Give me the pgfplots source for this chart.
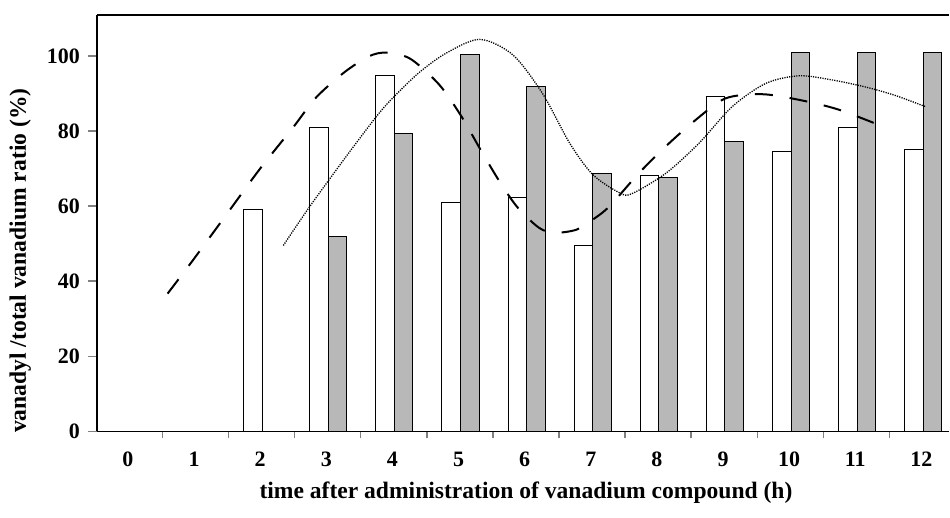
\documentclass[border=0pt]{standalone}
\usepackage{fontspec}
\setmainfont{Liberation Serif}
\usepackage{pgfplots}
\pgfplotsset{compat=1.18}
\begin{document}
\begin{tikzpicture}
\begin{axis}[
  scale only axis, width=426.7pt, height=208.5pt,
  xmin=-0.47, xmax=12.42, ymin=0, ymax=110.9,
  axis x line=box, axis y line=left,
  axis line style={-, line width=0.9pt},
  xtick={0,...,12}, xtick pos=bottom,
  major x tick style={draw=none},
  minor xtick={0.52,1.52,...,11.52},
  minor x tick style={line width=0.8pt},
  minor tick length=3.5pt,
  ytick={0,20,...,100},
  major y tick style={line width=0.8pt},
  major tick length=4.5pt,
  tick align=outside,
  /pgf/number format/assume math mode=true,
  ticklabel style={font=\fontsize{11}{13}\selectfont\bfseries},
  xticklabel style={anchor=base, yshift=-13pt},
  yticklabel style={xshift=-0.5pt},
  label style={font=\fontsize{11.8}{13}\selectfont\bfseries},
  xlabel={time after administration of vanadium compound (h)},
  xlabel style={at={(axis description cs:0.5035,-0.148)}, anchor=center},
  ylabel={vanadyl /total vanadium ratio (\%)},
  ylabel style={at={(axis description cs:-0.090,0.41)}, anchor=center, rotate=0},
  clip=false,
]
\coordinate (O) at (rel axis cs:0,0);
\addplot[ybar, bar width=0.28, bar shift=-0.11, fill=white, draw=black, line width=0.5pt]
  coordinates {(2,59.2)(3,81.0)(4,94.9)(5,61.0)(6,62.2)(7,49.6)(8,68.2)(9,89.2)(10,74.5)(11,80.9)(12,75.0)};
\addplot[ybar, bar width=0.28, bar shift=0.17, fill=black!28, draw=black, line width=0.5pt]
  coordinates {(3,51.8)(4,79.4)(5,100.5)(6,91.8)(7,68.8)(8,67.6)(9,77.2)(10,100.9)(11,100.9)(12,101.0)};
\addplot[smooth, black, line width=1.0pt, dash pattern=on 9pt off 8.5pt]
  coordinates {(0.6,36.7)(1,46)(1.5,58)(2,70)(2.5,81)(2.85,89)(3.3,96)(3.7,100.3)(4.0,100.8)(4.3,98.9)(4.71,92.3)(5.04,84)(5.35,74.5)(5.64,66)(5.9,59.5)(6.22,54.2)(6.45,52.9)(6.78,53.7)(7.03,56.4)(7.28,59.9)(7.73,68.8)(8.14,76)(8.59,83)(9.04,88.7)(9.59,89.8)(10.15,88.3)(10.73,85.8)(11.36,81.6)};
\addplot[smooth, black, line width=0.65pt, dash pattern=on 0.6pt off 0.6pt]
  coordinates {(2.35,49.5)(2.75,59.9)(3.3,73.2)(3.76,83.9)(4.0,88.7)(4.4,95.5)(4.81,100.7)(5.32,104.4)(5.82,100.3)(6.27,90)(6.68,76.8)(7.03,68.4)(7.43,63.6)(7.62,63.3)(8.14,68.8)(8.64,76.8)(9.14,86.5)(9.65,92.7)(10.15,94.7)(10.65,93.6)(11.16,91.7)(11.6,89.5)(12.06,86.5)};
\end{axis}
\path (O) ++(-48.5pt,-43pt) rectangle ++(475pt,259pt);
\end{tikzpicture}
\end{document}
